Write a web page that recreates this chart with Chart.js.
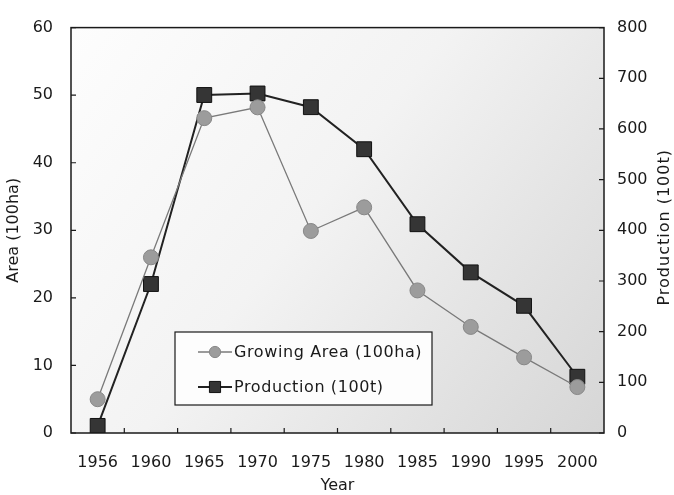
<!DOCTYPE html>
<html>
<head>
<meta charset="utf-8">
<script src="https://cdn.jsdelivr.net/npm/chart.js@4.4.1/dist/chart.umd.min.js"></script>
<style>
  html, body { margin: 0; padding: 0; background: #fff; }
  #wrap { width: 674px; height: 495px; }
</style>
</head>
<body>
<div id="wrap"><canvas id="chart"></canvas></div>
<script>
// ===== data =====
const years = ['1956', '1960', '1965', '1970', '1975', '1980', '1985', '1990', '1995', '2000'];
const growingArea = [5, 26, 46.6, 48.2, 29.9, 33.4, 21.1, 15.7, 11.2, 6.8];
const production = [14, 294, 667, 670, 643, 560, 412, 317, 251, 111];
const areaTicks = [0, 10, 20, 30, 40, 50, 60];
const prodTicks = [0, 100, 200, 300, 400, 500, 600, 700, 800];
const rightTitle = 'Production (100t)';

const FONT = "'DejaVu Sans', 'Noto Sans', sans-serif";
const ink = '#1a1a1a';

Chart.defaults.font.family = FONT;
Chart.defaults.color = ink;

// plot background, frame, inward ticks, right title and boxed legend
const frame = {
    id: 'frame',
    beforeDatasetsDraw(chart) {
        const { ctx, chartArea: a } = chart;
        const g = ctx.createLinearGradient(a.left, a.top, a.right, a.bottom);
        g.addColorStop(0, '#fdfdfd');
        g.addColorStop(0.45, '#f3f3f3');
        g.addColorStop(0.75, '#e3e3e3');
        g.addColorStop(1, '#d6d6d6');
        ctx.save();
        ctx.fillStyle = g;
        ctx.fillRect(a.left, a.top, a.right - a.left, a.bottom - a.top);
        ctx.restore();
    },
    afterDatasetsDraw(chart) {
        const { ctx, chartArea: a, scales } = chart;
        ctx.save();
        ctx.strokeStyle = ink;
        ctx.lineWidth = 1.5;
        ctx.strokeRect(a.left, a.top, a.right - a.left, a.bottom - a.top);
        ctx.lineWidth = 1.2;
        ctx.beginPath();
        areaTicks.forEach(v => {
            const y = scales.y.getPixelForValue(v);
            ctx.moveTo(a.left, y); ctx.lineTo(a.left + 5, y);
        });
        prodTicks.forEach(v => {
            const y = scales.y1.getPixelForValue(v);
            ctx.moveTo(a.right, y); ctx.lineTo(a.right - 5, y);
        });
        for (let i = 1; i < years.length; i++) {
            const x = scales.x.getPixelForValue(i - 0.5);
            ctx.moveTo(x, a.bottom); ctx.lineTo(x, a.bottom - 5);
        }
        ctx.stroke();

        // right axis title, reading upwards like the left one
        ctx.save();
        ctx.translate(665, (a.top + a.bottom) / 2 - 3);
        ctx.rotate(-Math.PI / 2);
        ctx.fillStyle = ink;
        ctx.font = "16px " + FONT;
        ctx.letterSpacing = '1px';
        ctx.textAlign = 'center';
        ctx.textBaseline = 'middle';
        ctx.fillText(rightTitle, 0, 0);
        ctx.restore();

        // legend box
        const bx = 175, by = 332, bw = 257, bh = 73;
        ctx.fillStyle = '#fdfdfd';
        ctx.fillRect(bx, by, bw, bh);
        ctx.strokeStyle = ink;
        ctx.lineWidth = 1.2;
        ctx.strokeRect(bx, by, bw, bh);
        chart.data.datasets.forEach((ds, i) => {
            const cy = by + 20 + i * 35;
            ctx.strokeStyle = ds.borderColor;
            ctx.lineWidth = ds.borderWidth;
            ctx.beginPath();
            ctx.moveTo(bx + 23, cy); ctx.lineTo(bx + 57, cy);
            ctx.stroke();
            ctx.fillStyle = ds.pointBackgroundColor;
            ctx.strokeStyle = ds.pointBorderColor;
            ctx.lineWidth = 1;
            Chart.helpers.drawPoint(ctx, {
                pointStyle: ds.pointStyle,
                radius: ds.pointRadius * 0.75,
                borderWidth: 1
            }, bx + 40, cy);
            ctx.fillStyle = ink;
            ctx.font = "16px " + FONT;
            ctx.letterSpacing = '0.6px';
            ctx.textBaseline = 'middle';
            ctx.textAlign = 'left';
            ctx.fillText(ds.label, bx + 59, cy + 1);
        });
        ctx.restore();
    }
};

new Chart(document.getElementById('chart'), {
    type: 'line',
    data: {
        labels: years,
        datasets: [
            {
                label: 'Growing Area (100ha)',
                data: growingArea,
                yAxisID: 'y',
                borderColor: '#7a7a7a',
                borderWidth: 1.3,
                pointStyle: 'circle',
                pointRadius: 7.5,
                pointBackgroundColor: '#9c9c9c',
                pointBorderColor: '#888',
                pointBorderWidth: 1,
                tension: 0
            },
            {
                label: 'Production (100t)',
                data: production,
                yAxisID: 'y1',
                borderColor: '#222',
                borderWidth: 2,
                pointStyle: 'rect',
                pointRadius: 10.5,
                pointBackgroundColor: '#353535',
                pointBorderColor: '#111',
                pointBorderWidth: 1,
                tension: 0
            }
        ]
    },
    options: {
        responsive: true,
        maintainAspectRatio: false,
        animation: false,
        layout: { padding: { top: 17, left: 0, right: 0, bottom: 0 } },
        plugins: {
            legend: { display: false },
            tooltip: { enabled: false }
        },
        scales: {
            x: {
                offset: true,
                grid: { display: false, drawTicks: false },
                border: { display: false },
                ticks: { padding: 20, font: { size: 16 }, maxRotation: 0, autoSkip: false },
                title: { display: true, text: 'Year', font: { size: 16 }, padding: { top: 0, bottom: 0 } },
                afterFit: (s) => { s.height = 62; }
            },
            y: {
                position: 'left',
                min: 0, max: 60,
                afterBuildTicks: (s) => { s.ticks = areaTicks.map(v => ({ value: v })); },
                grid: { display: false, drawTicks: false },
                border: { display: false },
                ticks: { padding: 18, font: { size: 16 } },
                title: { display: true, text: 'Area (100ha)', font: { size: 16 }, padding: { top: 4, bottom: 0 } },
                afterFit: (s) => { s.width = 71; }
            },
            y1: {
                position: 'right',
                min: 0, max: 800,
                afterBuildTicks: (s) => { s.ticks = prodTicks.map(v => ({ value: v })); },
                grid: { display: false, drawTicks: false },
                border: { display: false },
                ticks: { padding: 13, font: { size: 16 } },
                afterFit: (s) => { s.width = 70; }
            }
        }
    },
    plugins: [frame]
});
</script>
</body>
</html>
